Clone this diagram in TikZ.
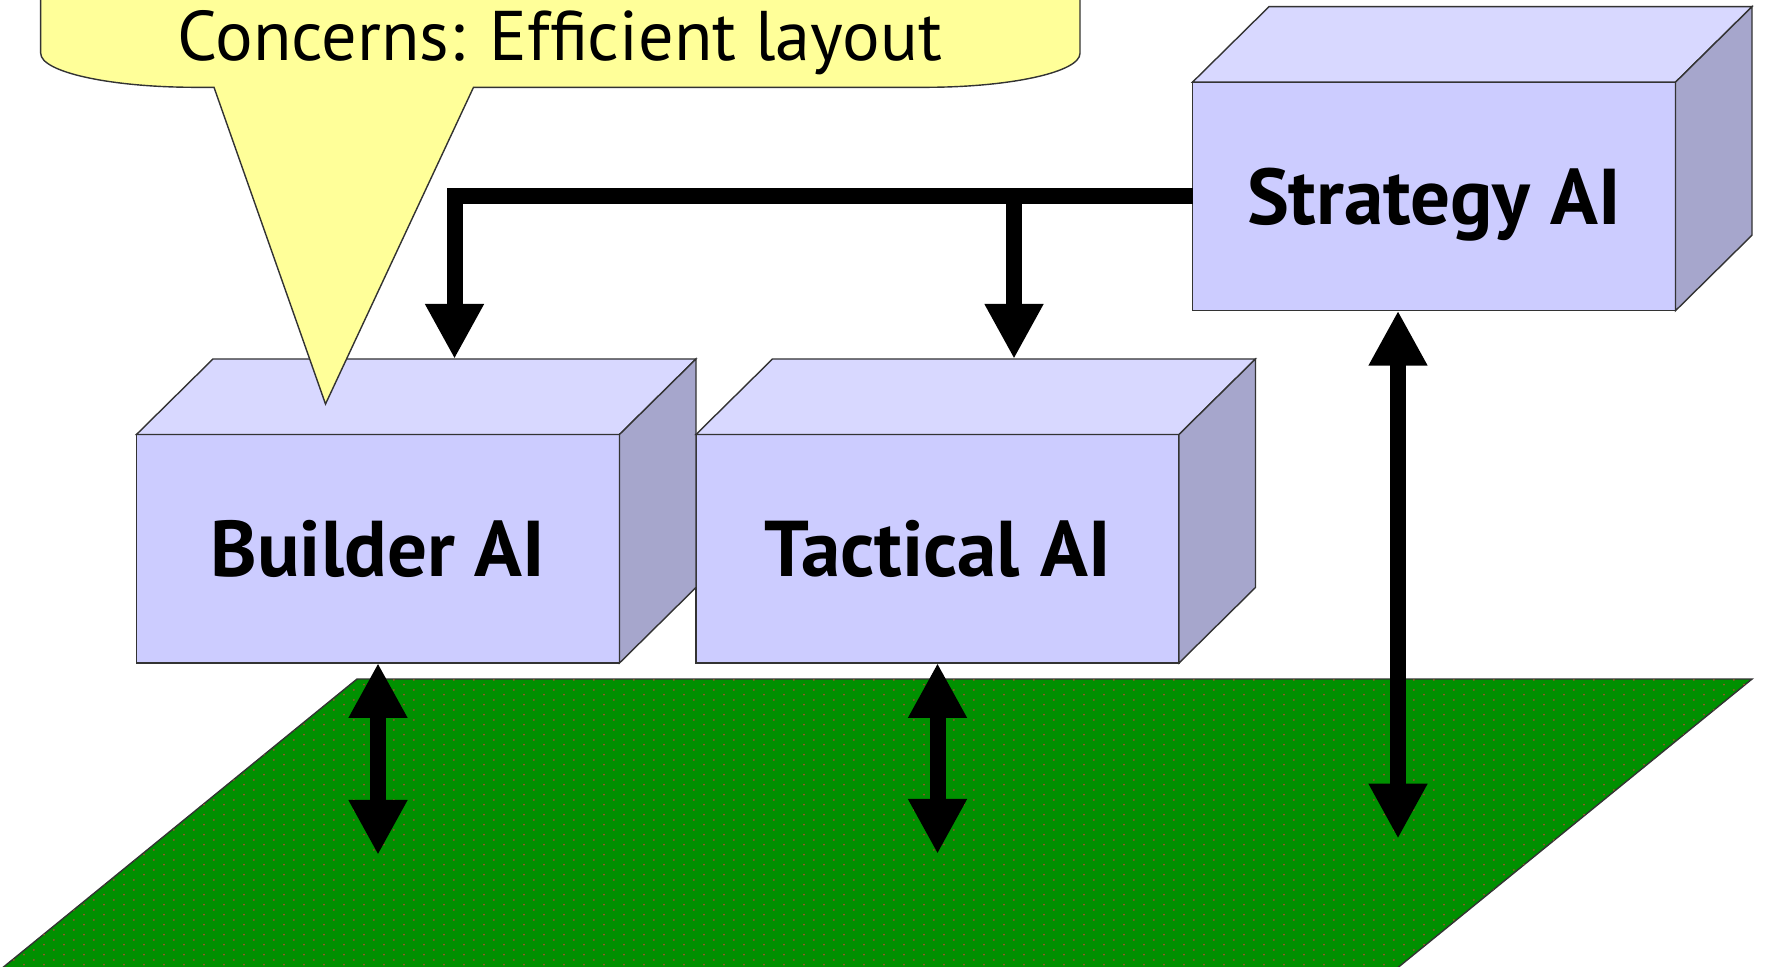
\documentclass[tikz,border=0pt]{standalone}
\usepackage{fontspec}
\setmainfont{PT Sans}
\usetikzlibrary{arrows.meta,positioning,patterns}
\definecolor{frontblue}{HTML}{CCCCFF}
\definecolor{topblue}{HTML}{D8D8FF}
\definecolor{sideblue}{HTML}{A6A6CC}
\definecolor{noteyellow}{HTML}{FFFF99}
\definecolor{grass}{HTML}{009000}
\definecolor{grassdot}{HTML}{A0522D}

% staggered dots for the ground
\pgfdeclarepatternformonly{grassdots}{\pgfpointorigin}{\pgfpoint{5.8pt}{2.9pt}}{\pgfpoint{5.8pt}{2.9pt}}{%
  \pgfpathcircle{\pgfpoint{1.45pt}{0.725pt}}{0.3pt}%
  \pgfpathcircle{\pgfpoint{4.35pt}{2.175pt}}{0.3pt}%
  \pgfusepath{fill}}

\begin{document}
\begin{tikzpicture}[font=\bfseries\fontsize{22.5}{26}\selectfont,
  aibox/.style={rectangle,draw=black!80,fill=frontblue,line width=0.4pt,minimum width=4.83cm,minimum height=2.285cm,inner sep=0pt,outer sep=0pt,text depth=0pt},
  topface/.style={draw=black!80,fill=topblue,line width=0.4pt},
  sideface/.style={draw=black!80,fill=sideblue,line width=0.4pt},
  flow/.style={-{Triangle[length=5.5mm,width=5.5mm]},line width=1.6mm},
  link/.style={{Triangle[length=5.5mm,width=5.5mm]}-{Triangle[length=5.5mm,width=5.5mm]},line width=1.6mm}]
\clip (0,0) rectangle (17.65,-9.66);

% ground
\path[draw=black!80,line width=0.4pt,fill=grass,postaction={pattern=grassdots,pattern color=grassdot}]
  (3.57,-6.79) -- (17.52,-6.79) -- (13.58,-10) -- (-0.37,-10) -- cycle;

% the three AI blocks
\node[aibox] (bld) at (3.78,-5.487) {Builder AI};
\node[aibox,right=0.765cm of bld] (tac) {Tactical AI};
\node[aibox,above right=1.238cm and 0.135cm of tac] (str) {Strategy AI};
\foreach \n in {bld,tac,str} {
  \filldraw[topface] (\n.north west) -- ++(0.765,0.755) -- ([shift={(0.765,0.755)}]\n.north east) -- (\n.north east) -- cycle;
  \filldraw[sideface] (\n.north east) -- ++(0.765,0.755) -- ([shift={(0.765,0.755)}]\n.south east) -- (\n.south east) -- cycle;
}
\coordinate (bldtop) at ([shift={(0.765,0.755)}]bld.north);
\coordinate (tactop) at ([shift={(0.765,0.755)}]tac.north);

% strategy feeds the other two
\draw[flow] (str.west) -| (bldtop);
\draw[flow] (str.west) -| (tactop);

% links down to the map
\coordinate (bldg) at ([yshift=-1.92cm]bld.south);
\coordinate (tacg) at ([yshift=-1.91cm]tac.south);
\coordinate (strg) at ([xshift=-0.36cm,yshift=-5.28cm]str.south);
\draw[link] (bld.south) -- (bldg);
\draw[link] (tac.south) -- (tacg);
\draw[link] ([xshift=-0.36cm]str.south) -- (strg);

% speech bubble
\filldraw[draw=black!80,fill=noteyellow,line width=0.4pt]
  (0.407,0.2) -- (0.407,-0.533) arc[start angle=180,end angle=270,x radius=1.55,y radius=0.34]
  -- (2.14,-0.873) -- (3.255,-4.04) -- (4.735,-0.873) -- (9.25,-0.873)
  arc[start angle=270,end angle=360,x radius=1.55,y radius=0.34] -- (10.8,0.2);
\node[font=\fontsize{20}{24}\selectfont,anchor=base] (note) at (5.6,-0.6) {Concerns: Efficient layout};
\end{tikzpicture}
\end{document}
